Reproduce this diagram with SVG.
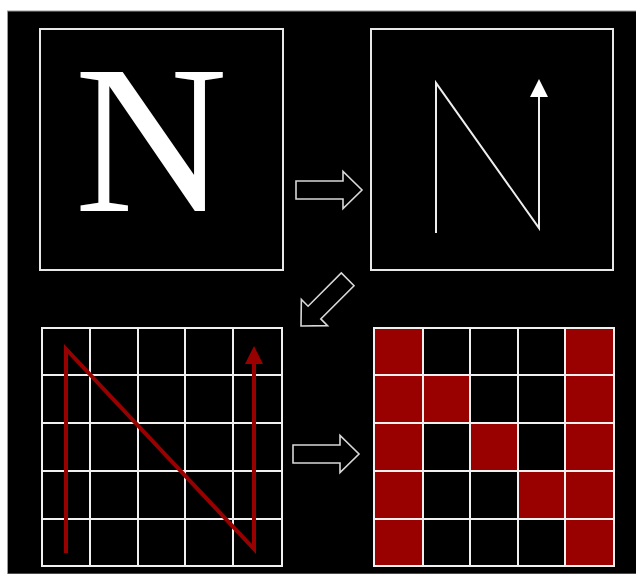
<svg xmlns="http://www.w3.org/2000/svg" width="636" height="574" viewBox="0 0 636 574">
<style>
.box{fill:none;stroke:#e8e8e8;stroke-width:2}
.wl{fill:none;stroke:#eeeeee;stroke-width:2}
.arr{fill:#000;stroke:#d8d8d8;stroke-width:1.6;stroke-linejoin:miter}
.grid{fill:none;stroke:#f0f0f0;stroke-width:2}
.red{fill:#990000}
.rl{fill:none;stroke:#990000;stroke-width:4;stroke-linejoin:miter}
</style>
<defs>
<polygon id="blk" points="-66,-9 -19,-9 -19,-18.5 0,0 -19,18.5 -19,9 -66,9"/>
</defs>
<rect x="0" y="0" width="636" height="574" fill="#fff"/>
<rect x="7.5" y="11" width="629" height="563" fill="#000" stroke="#999" stroke-width="1"/>
<g id="node-letter">
<rect class="box" x="40" y="29" width="243" height="241"/>
<text x="151" y="211" font-family="Liberation Serif, Times New Roman, serif" font-size="212" fill="#fff" text-anchor="middle">N</text>
</g>
<g id="node-stroke">
<rect class="box" x="371" y="29" width="242" height="241"/>
<polyline class="wl" points="436,233 436,83 539,228 539,95"/>
<polygon points="539,79 548,97 530,97" fill="#fff"/>
</g>
<g id="node-grid-path">
<path class="grid" d="M42,328H282V566H42Z M90,328V566 M138,328V566 M185,328V566 M233,328V566 M42,375H282 M42,423H282 M42,471H282 M42,519H282"/>
<polyline class="rl" points="66,553 66,349 254,549 254,362"/>
<polygon points="254,346 263,364 245,364" fill="#990000"/>
</g>
<g id="node-pixels">
<rect class="red" x="374" y="328" width="49" height="47"/>
<rect class="red" x="565" y="328" width="49" height="47"/>
<rect class="red" x="374" y="375" width="49" height="48"/>
<rect class="red" x="423" y="375" width="47" height="48"/>
<rect class="red" x="565" y="375" width="49" height="48"/>
<rect class="red" x="374" y="423" width="49" height="48"/>
<rect class="red" x="470" y="423" width="48" height="48"/>
<rect class="red" x="565" y="423" width="49" height="48"/>
<rect class="red" x="374" y="471" width="49" height="48"/>
<rect class="red" x="518" y="471" width="47" height="48"/>
<rect class="red" x="565" y="471" width="49" height="48"/>
<rect class="red" x="374" y="519" width="49" height="47"/>
<rect class="red" x="565" y="519" width="49" height="47"/>
<path class="grid" d="M374,328H614V566H374Z M423,328V566 M470,328V566 M518,328V566 M565,328V566 M374,375H614 M374,423H614 M374,471H614 M374,519H614"/>
</g>
<g id="connectors">
<use href="#blk" class="arr" transform="translate(362,190)"/>
<use href="#blk" class="arr" transform="translate(301,326) rotate(135)"/>
<use href="#blk" class="arr" transform="translate(359,454)"/>
</g>
</svg>
